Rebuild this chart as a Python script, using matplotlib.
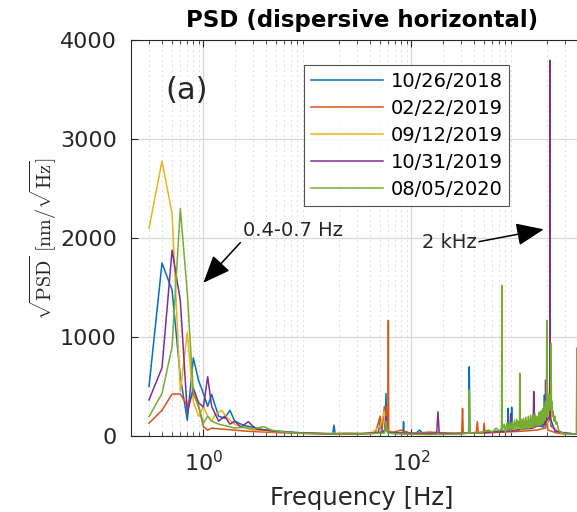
import numpy as np
import matplotlib
matplotlib.use("Agg")
import matplotlib.pyplot as plt
from matplotlib.ticker import LogLocator, NullFormatter

# --- data (frequency in Hz, sqrt(PSD) in nm/sqrt(Hz)) ---
labels = ['10/26/2018', '02/22/2019', '09/12/2019', '10/31/2019', '08/05/2020']
colors = ['#0072BD', '#D95319', '#EDB120', '#7E2F8E', '#77AC30']

blue_f = [0.3, 0.4, 0.5, 0.6, 0.7, 0.8, 0.9, 1.0, 1.1, 1.2, 1.4, 1.6, 1.8, 2.0, 2.3, 2.6, 3.0,
          3.5, 4, 5, 6, 7, 8, 10, 13, 17.5, 18, 18.5, 25, 35, 48, 50, 52, 56, 57, 58, 62, 70,
          83, 84, 85, 110, 120, 130, 200, 300, 355, 360, 365, 500, 700, 840, 850, 860, 910,
          920, 930, 1200, 1500, 1880, 1900, 1920, 2100, 2150, 2200, 2600, 3000, 3800]
blue_v = [500, 1750, 1475, 600, 160, 790, 560, 430, 300, 420, 200, 180, 260, 150, 120, 100, 90,
          70, 60, 50, 45, 40, 35, 30, 25, 20, 110, 20, 30, 20, 30, 150, 40, 60, 430, 50, 30, 25,
          30, 145, 30, 25, 60, 20, 30, 25, 30, 700, 30, 40, 50, 60, 280, 60, 70,
          290, 60, 80, 120, 90, 415, 120, 150, 600, 100, 40, 30, 20]

orange_f = [0.3, 0.4, 0.5, 0.6, 0.7, 0.8, 0.9, 1.0, 1.1, 1.2, 1.5, 2.0, 2.5, 3, 4, 5, 7, 10,
            15, 20, 30, 45, 50, 52, 55, 57, 59.5, 60, 60.5, 63, 80, 100, 150, 250, 305, 310,
            315, 420, 430, 440, 490, 500, 510, 800, 1200, 1600, 1950, 2000, 2050, 2500, 3000]
orange_v = [130, 260, 425, 425, 310, 440, 295, 95, 60, 80, 70, 60, 50, 45, 40, 35, 30, 25,
            20, 25, 20, 30, 200, 40, 300, 295, 60, 1170, 50, 30, 60, 25, 40, 25, 30, 280,
            30, 30, 145, 30, 30, 130, 30, 40, 50, 60, 80, 200, 60, 30, 20]

yellow_f = [0.3, 0.4, 0.5, 0.6, 0.7, 0.8, 0.9, 1.0, 1.1, 1.2, 1.3, 1.5, 1.7, 2.0, 2.5, 3, 4,
            5, 7, 10, 15, 25, 40, 50, 55, 58, 70, 100, 200, 300, 500, 800, 1000, 1400, 1800,
            2000, 2050, 2150, 2200, 2300, 2600, 3000]
yellow_v = [2100, 2780, 2250, 450, 1050, 350, 200, 300, 200, 150, 220, 260, 180, 120, 80, 60, 50,
            40, 35, 30, 25, 30, 20, 100, 250, 60, 30, 25, 30, 25, 40, 50, 70, 90, 150,
            400, 120, 650, 150, 90, 40, 25]

purple_f = [0.3, 0.4, 0.5, 0.6, 0.7, 0.8, 0.9, 1.0, 1.1, 1.2, 1.4, 1.6, 1.8, 2.0, 2.3, 2.7, 3.2,
            4, 5, 7, 10, 15, 25, 40, 55, 57, 59, 80, 120, 175, 180, 185, 250, 400, 600, 890, 900,
            910, 1200, 1480, 1500, 1520, 1930, 1950, 1970, 2140, 2150, 2160, 2400, 3000, 3800]
purple_v = [365, 690, 1880, 1370, 235, 485, 335, 295, 600, 300, 150, 200, 120, 150, 90, 145, 70,
            60, 45, 35, 30, 25, 20, 30, 40, 200, 40, 30, 25, 30, 245, 30, 25, 30, 40, 50, 225,
            50, 70, 80, 450, 90, 120, 565, 150, 200, 3800, 180, 50, 30, 20]

green_f = [0.3, 0.4, 0.5, 0.6, 0.7, 0.8, 0.9, 1.0, 1.1, 1.2, 1.4, 1.7, 2.0, 2.5, 3.0, 3.8, 4.5,
           6, 8, 10, 15, 25, 40, 55, 57, 59, 80, 150, 300, 355, 360, 365, 450, 550, 600, 650,
           700, 735, 740, 745, 780, 800, 830, 850, 880, 900, 930, 950, 980, 1000, 1030, 1050,
           1070, 1095, 1100, 1105, 1130, 1150, 1180, 1200, 1230, 1260, 1300, 1330, 1360, 1400,
           1440, 1470, 1500, 1540, 1580, 1600, 1640, 1680, 1700, 1740, 1780, 1800, 1830, 1850,
           1880, 1900, 1930, 1950, 1970, 1990, 2000, 2010, 2030, 2050, 2080, 2100, 2130, 2160,
           2180, 2200, 2220, 2250, 2280, 2300, 2350, 2400, 2450, 2500, 2600, 2700, 3000, 3400,
           3850, 3900, 3950]
green_v = [195, 430, 900, 2300, 1450, 430, 300, 130, 200, 150, 120, 100, 80, 90, 70, 95, 60,
           40, 30, 25, 20, 20, 25, 30, 150, 30, 20, 15, 20, 30, 465, 30, 30, 60, 40, 80,
           50, 80, 1525, 60, 120, 40, 130, 60, 150, 50, 140, 70, 160, 60, 170, 80,
           150, 90, 635, 90, 60, 170, 70, 180, 60, 190, 80, 200, 70, 210,
           90, 220, 80, 230, 100, 200, 110, 240, 100, 250, 120, 260, 130, 280,
           150, 300, 160, 350, 200, 400, 1170, 300, 200, 380, 250, 420, 260, 400,
           300, 940, 280, 350, 200, 250, 150, 200, 120, 140, 60, 40, 20, 20,
           20, 890, 20]

series_f = [blue_f, orange_f, yellow_f, purple_f, green_f]
series_v = [blue_v, orange_v, yellow_v, purple_v, green_v]

fig = plt.figure(figsize=(5.77, 5.12), dpi=100)
ax = fig.add_axes([0.2265, 0.1484, 0.802, 0.7726])

for f, v, c, lab in zip(series_f, series_v, colors, labels):
    ax.plot(f, v, color=c, lw=1.1, label=lab)

ax.set_xscale('log')
ax.set_xlim(0.2, 10 ** 3.75)
ax.set_ylim(0, 4000)
ax.set_yticks([0, 1000, 2000, 3000, 4000])
ax.xaxis.set_minor_locator(LogLocator(base=10, subs=np.arange(2, 10), numticks=50))
ax.xaxis.set_minor_formatter(NullFormatter())
ax.set_xticks([1, 100])
ax.set_xticklabels([r'$10^0$', r'$10^2$'])

ax.grid(True, which='major', color='#d8d8d8', lw=0.9, ls='-')
ax.grid(True, which='minor', axis='x', color='#a8a8a8', lw=0.6, ls=(0, (1, 5)))
ax.set_axisbelow(True)

ax.tick_params(which='both', direction='in', top=True, right=False,
               labelsize=16, colors='#262626', pad=10)
ax.tick_params(which='major', length=5)
ax.tick_params(which='minor', length=3)
for s in ['left', 'bottom', 'top']:
    ax.spines[s].set_color('#262626')
ax.spines['right'].set_visible(False)

ax.set_title('PSD (dispersive horizontal)', fontsize=16.5, fontweight='bold', pad=10)
ax.set_xlabel('Frequency [Hz]', fontsize=17.5, color='#262626', labelpad=8)
ax.set_ylabel(r'$\sqrt{\mathrm{PSD}}\ [\mathrm{nm}/\sqrt{\mathrm{Hz}}]$', fontsize=14.5,
              color='#262626', math_fontfamily='cm')
ax.yaxis.set_label_coords(-0.155, 0.5)

leg = ax.legend(loc='upper left', bbox_to_anchor=(0.3745, 0.9385), fontsize=14,
                frameon=True, fancybox=False, edgecolor='#262626', handlelength=3.7,
                labelspacing=0.42, borderpad=0.35, handletextpad=0.4, borderaxespad=0)
leg.get_frame().set_linewidth(0.8)

ax.text(0.075, 0.873, '(a)', transform=ax.transAxes, fontsize=22, color='#262626',
        va='center')

arrow_kw = dict(arrowstyle='-|>,head_length=0.85,head_width=0.35', color='k', lw=1.1,
                mutation_scale=20, shrinkA=0, shrinkB=0)
ax.annotate('0.4-0.7 Hz', xy=(1.0, 1550), xytext=(2.4, 2080), fontsize=14,
            color='#262626', ha='left', va='center',
            arrowprops=dict(relpos=(0, 0), **arrow_kw))
ax.annotate('2 kHz', xy=(1870, 2090), xytext=(125, 1960), fontsize=14,
            color='#262626', ha='left', va='center',
            arrowprops=dict(relpos=(1, 0.5), **arrow_kw))

fig.savefig('out.png', dpi=100)
